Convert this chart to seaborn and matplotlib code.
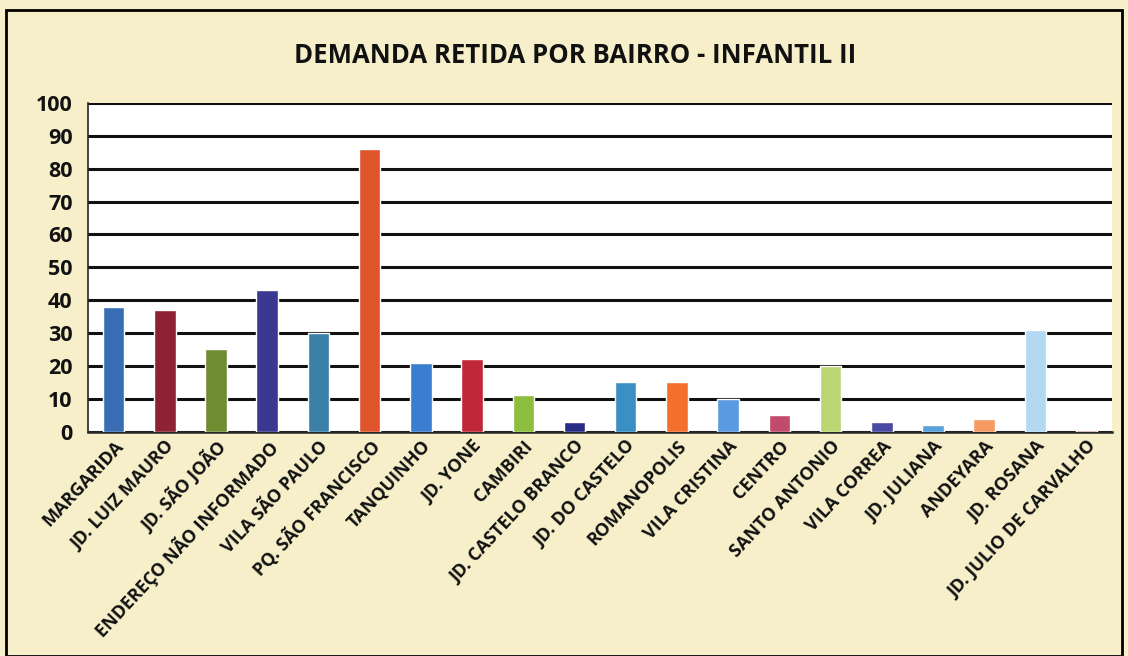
import numpy as np
import pandas as pd
import seaborn as sns
import matplotlib.pyplot as plt
from matplotlib.patches import Rectangle

bairros = ['MARGARIDA', 'JD. LUIZ MAURO', 'JD. SÃO JOÃO', 'ENDEREÇO NÃO INFORMADO',
           'VILA SÃO PAULO', 'PQ. SÃO FRANCISCO', 'TANQUINHO', 'JD. YONE', 'CAMBIRI',
           'JD. CASTELO BRANCO', 'JD. DO CASTELO', 'ROMANOPOLIS', 'VILA CRISTINA',
           'CENTRO', 'SANTO ANTONIO', 'VILA CORREA', 'JD. JULIANA', 'ANDEYARA',
           'JD. ROSANA', 'JD. JULIO DE CARVALHO']
demanda = [38, 37, 25, 43, 30, 86, 21, 22, 11, 3, 15, 15, 10, 5, 20, 3, 2, 4, 31, 0.5]
cores = ['#3A6EB4', '#8C2233', '#6F8C30', '#3B3891', '#3A80A8', '#E0542B',
         '#3B7ED0', '#C0283A', '#8DBE40', '#2B2B88', '#3A90C2', '#F2702B',
         '#5A9AE0', '#C24A6A', '#B9D672', '#4A4AA2', '#5AA0D8', '#F59A62',
         '#B2D8F2', '#C49484']

df = pd.DataFrame({'bairro': bairros, 'demanda': demanda})

sns.set_style('white')
plt.rcParams['font.family'] = ['Open Sans', 'DejaVu Sans']
plt.rcParams['text.color'] = '#111111'
plt.rcParams['xtick.color'] = '#111111'
plt.rcParams['ytick.color'] = '#111111'

fig = plt.figure(figsize=(11.28, 6.56), dpi=100)
fig.patch.set_facecolor('#F6EFC9')
ax = fig.add_axes([0.078, 0.342, 0.908, 0.501])
ax.set_facecolor('white')

sns.barplot(data=df, x='bairro', y='demanda', hue='bairro', palette=cores,
            width=0.42, legend=False, ax=ax, zorder=3, saturation=1)

ax.set_ylim(0, 100)
ax.set_xlim(-0.5, len(bairros) - 0.5)
ax.set_yticks(range(0, 101, 10))
ax.yaxis.grid(True, color='#111111', linewidth=2.2, zorder=1)
ax.set_axisbelow(True)
for s in ['top', 'right']:
    ax.spines[s].set_visible(False)
ax.spines['left'].set_linewidth(1.2)
ax.spines['bottom'].set_linewidth(1.8)
ax.set_xlabel('')
ax.set_ylabel('')

ax.set_xticks(np.arange(-0.5, len(bairros)), minor=True)
ax.tick_params(axis='x', which='minor', direction='out', length=6, width=1.2, color='#222222')
ax.tick_params(axis='x', which='major', length=0, pad=4)
ax.tick_params(axis='y', length=5, width=1.2, direction='out', labelsize=15.5, pad=6)
ax.set_xticks(range(len(bairros)))
ax.set_xticklabels(bairros, rotation=47, ha='right', rotation_mode='anchor',
                   fontsize=13, fontweight='bold')
for t in ax.get_yticklabels():
    t.set_fontweight('bold')

fig.text(0.51, 0.915, 'DEMANDA RETIDA POR BAIRRO - INFANTIL II', ha='center', va='center',
         fontsize=18.5, fontweight='bold')

fig.patches.append(Rectangle((0.005, 0.0), 0.99, 0.985, transform=fig.transFigure,
                             fill=False, edgecolor='black', linewidth=2))

fig.savefig('out.png', dpi=100, facecolor=fig.get_facecolor())
